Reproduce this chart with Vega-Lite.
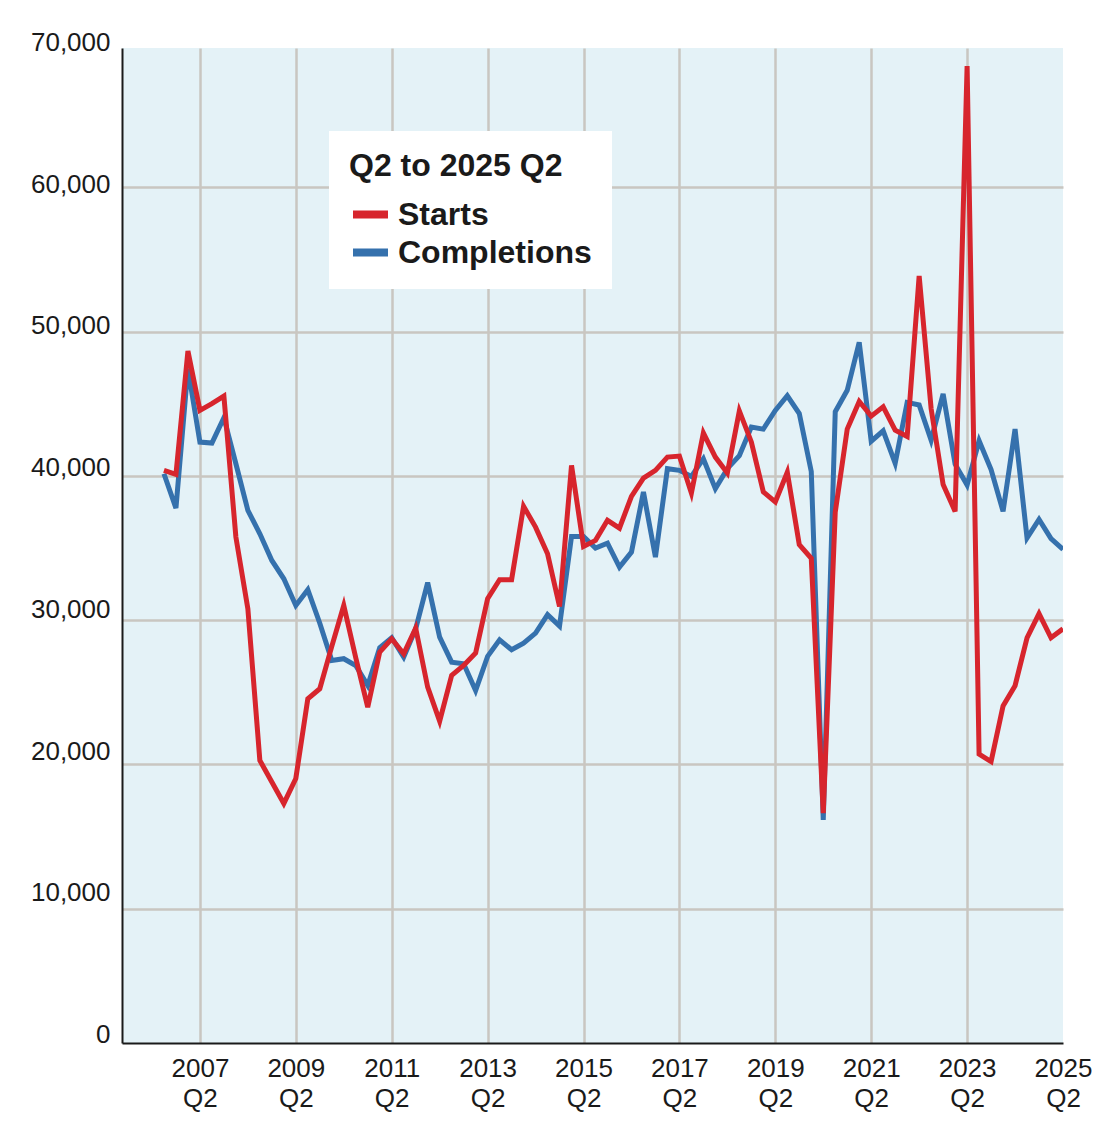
{
  "$schema": "https://vega.github.io/schema/vega-lite/v6.json",
  "width": 941,
  "height": 995,
  "autosize": "none",
  "padding": {"left": 122, "top": 48, "right": 53, "bottom": 93},
  "background": "white",
  "config": {
    "view": {"fill": "#e4f2f7", "stroke": null},
    "font": "Liberation Sans"
  },
  "data": {
    "values": [
      {"t": 2006.5, "Starts": 40380, "Completions": 40150},
      {"t": 2006.75, "Starts": 40100, "Completions": 37770},
      {"t": 2007, "Starts": 48650, "Completions": 47430},
      {"t": 2007.25, "Starts": 44540, "Completions": 42340},
      {"t": 2007.5, "Starts": 45000, "Completions": 42270},
      {"t": 2007.75, "Starts": 45530, "Completions": 44030},
      {"t": 2008, "Starts": 35760, "Completions": 40840},
      {"t": 2008.25, "Starts": 30790, "Completions": 37610},
      {"t": 2008.5, "Starts": 20280, "Completions": 35990},
      {"t": 2008.75, "Starts": 18790, "Completions": 34140},
      {"t": 2009, "Starts": 17300, "Completions": 32870},
      {"t": 2009.25, "Starts": 19030, "Completions": 31020},
      {"t": 2009.5, "Starts": 24550, "Completions": 32110},
      {"t": 2009.75, "Starts": 25250, "Completions": 29790},
      {"t": 2010, "Starts": 28180, "Completions": 27210},
      {"t": 2010.25, "Starts": 31020, "Completions": 27330},
      {"t": 2010.5, "Starts": 27400, "Completions": 26860},
      {"t": 2010.75, "Starts": 23970, "Completions": 25480},
      {"t": 2011, "Starts": 27790, "Completions": 28090},
      {"t": 2011.25, "Starts": 28710, "Completions": 28780},
      {"t": 2011.5, "Starts": 27670, "Completions": 27440},
      {"t": 2011.75, "Starts": 29450, "Completions": 29400},
      {"t": 2012, "Starts": 25360, "Completions": 32600},
      {"t": 2012.25, "Starts": 23000, "Completions": 28820},
      {"t": 2012.5, "Starts": 26170, "Completions": 27090},
      {"t": 2012.75, "Starts": 26860, "Completions": 26980},
      {"t": 2013, "Starts": 27720, "Completions": 25130},
      {"t": 2013.25, "Starts": 31490, "Completions": 27490},
      {"t": 2013.5, "Starts": 32800, "Completions": 28640},
      {"t": 2013.75, "Starts": 32800, "Completions": 27950},
      {"t": 2014, "Starts": 37890, "Completions": 28410},
      {"t": 2014.25, "Starts": 36450, "Completions": 29100},
      {"t": 2014.5, "Starts": 34600, "Completions": 30380},
      {"t": 2014.75, "Starts": 30950, "Completions": 29590},
      {"t": 2015, "Starts": 40730, "Completions": 35800},
      {"t": 2015.25, "Starts": 35110, "Completions": 35800},
      {"t": 2015.5, "Starts": 35530, "Completions": 35000},
      {"t": 2015.75, "Starts": 36920, "Completions": 35340},
      {"t": 2016, "Starts": 36380, "Completions": 33680},
      {"t": 2016.25, "Starts": 38580, "Completions": 34720},
      {"t": 2016.5, "Starts": 39850, "Completions": 38880},
      {"t": 2016.75, "Starts": 40380, "Completions": 34370},
      {"t": 2017, "Starts": 41300, "Completions": 40500},
      {"t": 2017.25, "Starts": 41370, "Completions": 40380},
      {"t": 2017.5, "Starts": 38800, "Completions": 39960},
      {"t": 2017.75, "Starts": 42970, "Completions": 41190},
      {"t": 2018, "Starts": 41300, "Completions": 39110},
      {"t": 2018.25, "Starts": 40200, "Completions": 40500},
      {"t": 2018.5, "Starts": 44500, "Completions": 41400},
      {"t": 2018.75, "Starts": 42350, "Completions": 43380},
      {"t": 2019, "Starts": 38890, "Completions": 43240},
      {"t": 2019.25, "Starts": 38200, "Completions": 44530},
      {"t": 2019.5, "Starts": 40250, "Completions": 45550},
      {"t": 2019.75, "Starts": 35240, "Completions": 44320},
      {"t": 2020, "Starts": 34290, "Completions": 40300},
      {"t": 2020.25, "Starts": 16630, "Completions": 16160},
      {"t": 2020.5, "Starts": 37480, "Completions": 44450},
      {"t": 2020.75, "Starts": 43240, "Completions": 45930},
      {"t": 2021, "Starts": 45160, "Completions": 49260},
      {"t": 2021.25, "Starts": 44140, "Completions": 42400},
      {"t": 2021.5, "Starts": 44780, "Completions": 43120},
      {"t": 2021.75, "Starts": 43170, "Completions": 40870},
      {"t": 2022, "Starts": 42730, "Completions": 45090},
      {"t": 2022.25, "Starts": 53860, "Completions": 44910},
      {"t": 2022.5, "Starts": 44650, "Completions": 42470},
      {"t": 2022.75, "Starts": 39400, "Completions": 45680},
      {"t": 2023, "Starts": 37540, "Completions": 40810},
      {"t": 2023.25, "Starts": 68400, "Completions": 39360},
      {"t": 2023.5, "Starts": 20720, "Completions": 42430},
      {"t": 2023.75, "Starts": 20200, "Completions": 40430},
      {"t": 2024, "Starts": 24050, "Completions": 37540},
      {"t": 2024.25, "Starts": 25460, "Completions": 43240},
      {"t": 2024.5, "Starts": 28780, "Completions": 35690},
      {"t": 2024.75, "Starts": 30450, "Completions": 36980},
      {"t": 2025, "Starts": 28780, "Completions": 35650},
      {"t": 2025.25, "Starts": 29400, "Completions": 34900}
    ]
  },
  "transform": [{"fold": ["Completions", "Starts"], "as": ["series", "value"]}],
  "layer": [
    {
      "mark": {"type": "line", "strokeWidth": 5, "clip": true},
      "encoding": {
        "x": {
          "field": "t",
          "type": "quantitative",
          "scale": {"domain": [2005.625, 2025.25], "nice": false, "zero": false},
          "axis": {
            "title": null,
            "values": [2007.25, 2009.25, 2011.25, 2013.25, 2015.25, 2017.25, 2019.25, 2021.25, 2023.25, 2025.25],
            "labelExpr": "[format(floor(datum.value), 'd'), 'Q2']",
            "grid": true,
            "gridColor": {"condition": {"test": "datum.value > 2025", "value": "transparent"}, "value": "#c9c6c1"},
            "gridWidth": 2.5,
            "ticks": false,
            "domainColor": "#1a1a1a",
            "domainWidth": 2,
            "labelFont": "Liberation Sans",
            "labelFontSize": 26,
            "labelLineHeight": 30,
            "labelPadding": 12,
            "labelColor": "#1a1a1a",
            "labelFlush": false,
            "labelOverlap": false
          }
        },
        "y": {
          "field": "value",
          "type": "quantitative",
          "scale": {"domain": [700, 69650], "nice": false, "zero": false},
          "axis": {
            "title": null,
            "orient": "left",
            "values": [10000, 20000, 30000, 40000, 50000, 60000],
            "labels": false,
            "ticks": false,
            "grid": true,
            "gridColor": "#c9c6c1",
            "gridWidth": 2.5,
            "domainColor": "#1a1a1a",
            "domainWidth": 2
          }
        },
        "color": {
          "field": "series",
          "type": "nominal",
          "scale": {"domain": ["Starts", "Completions"], "range": ["#d7252d", "#3571ad"]},
          "legend": {
            "title": "Q2 to 2025 Q2",
            "orient": "none",
            "legendX": 207,
            "legendY": 83,
            "fillColor": "white",
            "padding": 20,
            "titleFont": "Liberation Sans",
            "titleFontSize": 32,
            "titleFontWeight": "bold",
            "titleColor": "#1a1a1a",
            "titlePadding": 10,
            "titleLimit": 500,
            "labelFont": "Liberation Sans",
            "labelFontSize": 32,
            "labelFontWeight": "bold",
            "labelColor": "#1a1a1a",
            "labelOffset": 6,
            "labelLimit": 500,
            "symbolType": "stroke",
            "symbolStrokeWidth": 8,
            "symbolSize": 1225,
            "rowPadding": 0
          }
        }
      }
    },
    {
      "mark": {"type": "point", "opacity": 0},
      "encoding": {
        "x": {"field": "t", "type": "quantitative"},
        "y": {
          "field": "value",
          "type": "quantitative",
          "scale": {"domain": [0, 70220], "nice": false, "zero": false},
          "axis": {
            "title": null,
            "orient": "left",
            "values": [0, 10000, 20000, 30000, 40000, 50000, 60000, 70000],
            "format": ",d",
            "grid": false,
            "ticks": false,
            "domain": false,
            "labelOffset": -8.6,
            "labelPadding": 12,
            "labelFont": "Liberation Sans",
            "labelFontSize": 26,
            "labelColor": "#1a1a1a",
            "labelFlush": false,
            "labelOverlap": false
          }
        }
      }
    }
  ],
  "resolve": {"scale": {"y": "independent"}, "axis": {"y": "independent"}}
}
